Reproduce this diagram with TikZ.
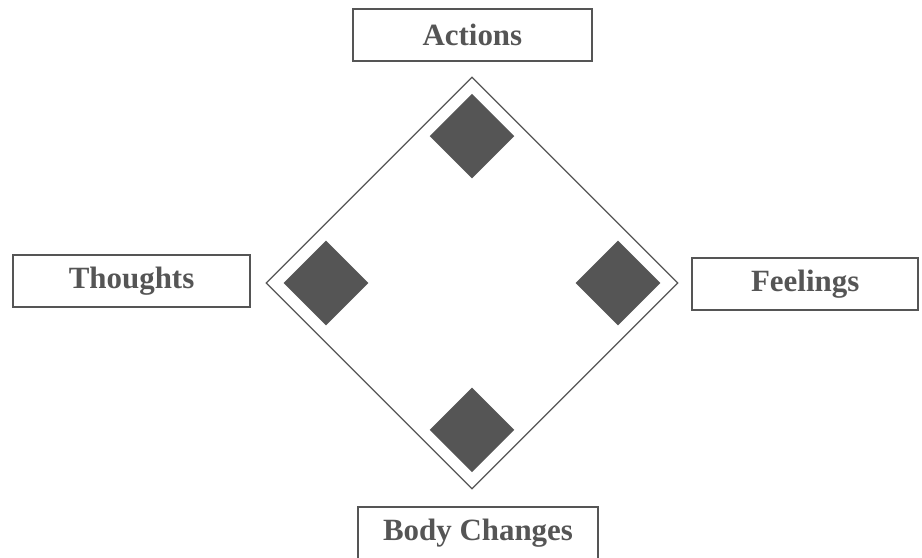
\documentclass[tikz,border=0pt]{standalone}
\usepackage{fontspec}
\setmainfont{Liberation Serif}
\usetikzlibrary{shapes.geometric}
\definecolor{inkgray}{HTML}{555555}

\begin{document}
\begin{tikzpicture}[
    namebox/.style={rectangle, draw=inkgray, line width=1.3pt, text=inkgray, minimum height=1.3cm, align=center, font=\fontsize{22}{26}\selectfont\bfseries},
    corner/.style={diamond, fill=inkgray, inner sep=0pt, minimum size=2.12cm}
]
\useasboundingbox (-11.8,-6.875) rectangle (11.25,7.075);

\node[diamond, draw=inkgray, line width=0.9pt, inner sep=0pt, minimum size=10.3cm] (frame) at (0,0) {};

\node[corner] (top)    at (0,3.67)    {};
\node[corner] (left)   at (-3.65,0)   {};
\node[corner] (right)  at (3.65,0)    {};
\node[corner] (bottom) at (0,-3.67)   {};

\node[namebox, minimum width=5.98cm] (actions)  at (0.01,6.21)   {Actions};
\node[namebox, minimum width=5.93cm] (thoughts) at (-8.51,0.04)  {Thoughts};
\node[namebox, minimum width=5.65cm] (feelings) at (8.33,-0.03)  {Feelings};
\node[namebox, minimum width=6cm]    (body)     at (0.15,-6.25)  {Body Changes};

\end{tikzpicture}
\end{document}
